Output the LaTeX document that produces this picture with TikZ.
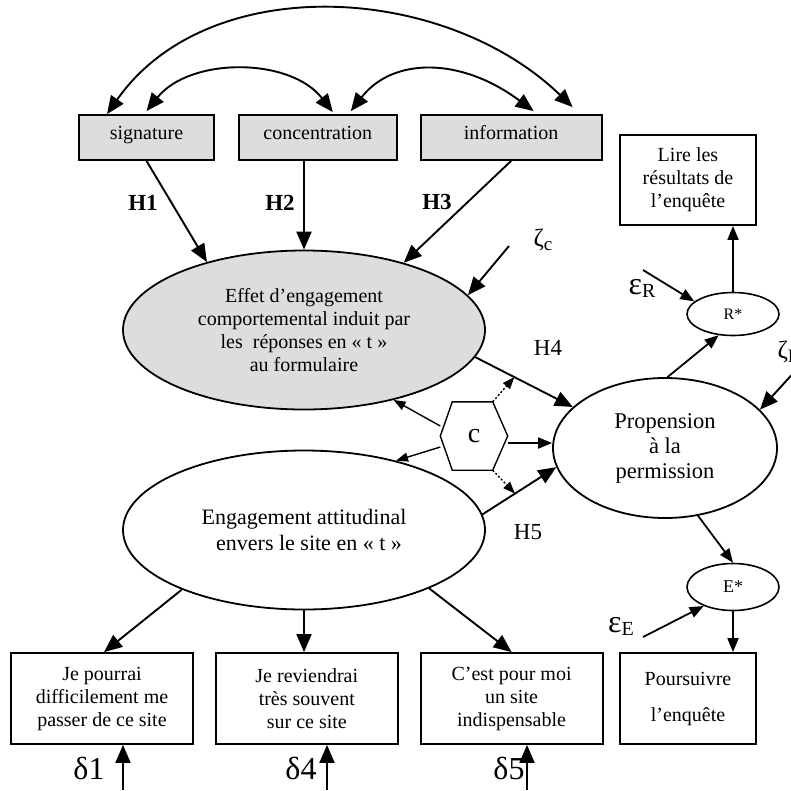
\documentclass[tikz,border=0pt]{standalone}
\usepackage{fontspec}
\setmainfont{Liberation Serif}
\usetikzlibrary{arrows.meta,positioning,shapes.geometric}
\definecolor{boxgray}{RGB}{221,221,221}

\begin{document}
\begin{tikzpicture}[x=1pt,y=-1pt,font=\fontsize{20}{23}\selectfont,
  box/.style={draw, line width=1.8pt, minimum width=182pt, minimum height=91pt, align=center, inner sep=2pt},
  topbox/.style={draw, line width=1.8pt, fill=boxgray, minimum height=45pt, inner sep=2pt, text height=1.25ex, text depth=.25ex},
  latent/.style={draw, ellipse, line width=1.8pt, minimum width=362pt, minimum height=159pt, align=center},
  resid/.style={draw, ellipse, line width=1.6pt, minimum width=92pt, minimum height=43pt, inner sep=0pt},
  arr/.style={line width=1.9pt, -{Triangle[length=18pt,width=15pt]}},
  twoarr/.style={line width=1.9pt, {Triangle[length=18pt,width=15pt]}-{Triangle[length=18pt,width=15pt]}},
  medarr/.style={line width=1.8pt, -{Triangle[length=14pt,width=11pt]}},
  smallarr/.style={line width=1.4pt, -{Triangle[length=12pt,width=9pt]}},
  hbold/.style={font=\bfseries\fontsize{23}{23}\selectfont},
  hlab/.style={font=\fontsize{23}{23}\selectfont},
  greek/.style={font=\fontsize{32}{32}\selectfont, inner sep=0pt},
]
\useasboundingbox (0,0) rectangle (791,790);

% exogenous variables
\node[topbox, minimum width=135pt] (sig) at (146.5,137.5) {signature};
\node[topbox, minimum width=158pt, right=23pt of sig] (conc) {concentration};
\node[topbox, minimum width=181pt, right=22pt of conc] (info) {information};

\draw[twoarr] ([xshift=-39.5pt]sig.north) .. controls (208,-30) and (444,-17) .. ([xshift=61.5pt,yshift=7pt]info.north);
\draw[twoarr] ([yshift=3pt]sig.north) .. controls (190,57) and (290,57) .. ([xshift=15pt,yshift=2pt]conc.north);
\draw[twoarr] ([xshift=33pt,yshift=3pt]conc.north) .. controls (393,57) and (461,57) .. ([xshift=22.5pt,yshift=3pt]info.north);

% latent variables
\node[latent, fill=boxgray] (effet) at (304,330) {Effet d’engagement\\comportemental induit par\\les\ \ réponses en « t »\\au formulaire};
\node[latent, font=\fontsize{22}{26}\selectfont] (eng) at (304,530) {Engagement attitudinal\\\hspace{10pt}envers le site en « t »};
\node[draw, ellipse, line width=1.8pt, minimum width=224pt, minimum height=140pt, align=center,
  font=\fontsize{22.5}{25}\selectfont] (prop) at (665,448) {Propension\\à la\\permission};

\node[minimum width=67pt, minimum height=68pt, inner sep=0pt, font=\fontsize{28}{28}\selectfont] (hex) at (474,436) {c};
\draw[line width=1.4pt] (hex.west) -- ([xshift=12pt]hex.north west) -- ([xshift=-15pt]hex.north east) -- (hex.east)
  -- ([xshift=-15pt]hex.south east) -- ([xshift=12pt]hex.south west) -- cycle;

% outcomes
\node[resid, font=\fontsize{16}{16}\selectfont] (rstar) at (733,314) {R*};
\node[resid, minimum height=47pt, font=\fontsize{18}{18}\selectfont] (estar) at (733,587) {E*};
\node[box, minimum width=136pt, minimum height=90pt] (lire) at (688,180) {Lire les\\résultats de\\l’enquête};
\node[box, minimum width=136pt] (pours) at (688,698.5) {Poursuivre\\[13pt]l’enquête};

% indicators
\node[box] (jp) at (102,698.5) {Je pourrai\\difficilement me\\passer de ce site};
\node[box, right=21pt of jp] (jr) {Je reviendrai\\très souvent\\sur ce site};
\node[box, right=21pt of jr] (cest) {C’est pour moi\\un site\\indispensable};

% labels
\node[hbold] (h1) at (143,203) {H1};
\node[hbold] (h2) at (280,203) {H2};
\node[hbold] (h3) at (437,202) {H3};
\node[hlab] (h4) at (548,348) {H4};
\node[hlab] (h5) at (528,532) {H5};
\node[font=\fontsize{25}{25}\selectfont] (zc) at (543,240) {ζ\raisebox{-4pt}{\fontsize{19}{19}\selectfont c}};
\node[font=\fontsize{25}{25}\selectfont, anchor=west] (zp) at (774,352) {ζ\raisebox{-4pt}{\fontsize{19}{19}\selectfont P}};
\node[greek] (er) at (642,288) {ε\raisebox{-3pt}{\fontsize{20}{20}\selectfont R}};
\node[greek] (ee) at (621,626) {ε\raisebox{-3pt}{\fontsize{20}{20}\selectfont E}};
\node[greek] (d1) at (89,768) {δ1};
\node[greek] (d4) at (301,768) {δ4};
\node[greek] (d5) at (509,768) {δ5};

\coordinate (zcin) at (509,246);
\coordinate (zpin) at (798,368);
\coordinate (erin) at (643,270);
\coordinate (eein) at (643,637);
\coordinate (d1in) at (123,790);
\coordinate (d4in) at (327,790);
\coordinate (d5in) at (527,790);

% paths
\draw[arr] (sig.south) -- (effet.145);
\draw[arr] (effet.90 |- conc.south) -- (effet.90);
\draw[arr] (info.south) -- (effet.34);
\draw[arr] (zcin) -- (effet.12);
\draw[arr] (effet.-9) -- coordinate[pos=0.4] (onh4) (prop.156);
\draw[arr] (eng.5) -- coordinate[pos=0.44] (onh5) (prop.190);
\draw[smallarr] ([yshift=10pt]hex.west) -- (effet.-38);
\draw[smallarr] ([yshift=-11pt]hex.west) -- (eng.37);
\draw[medarr] ([yshift=-7pt]hex.east) -- ([yshift=-7pt]hex.east -| prop.west);
\draw[smallarr, dash pattern=on 2pt off 2pt] ([xshift=-15pt]hex.north east) -- (onh4);
\draw[smallarr, dash pattern=on 2pt off 2pt] ([xshift=-15pt]hex.south east) -- (onh5);

\draw[medarr] (prop.88) -- (rstar.-124);
\draw[medarr] (rstar.north) -- (rstar.north |- lire.south);
\draw[medarr] (erin) -- (rstar.162);
\draw[arr] (zpin) -- (prop.22);
\draw[medarr] (prop.-64) -- (estar.north);
\draw[medarr] (eein) -- (estar.213);
\draw[medarr] (estar.south) -- (estar.south |- pours.north);

\draw[arr] (eng.206) -- ([xshift=2pt]jp.north);
\draw[arr] (eng.south) -- (eng.south |- jr.north);
\draw[arr] (eng.-25) -- (cest.north);
\draw[arr] (d1in) -- (d1in |- jp.south);
\draw[arr] (d4in) -- (d4in |- jr.south);
\draw[arr] (d5in) -- (d5in |- cest.south);

\end{tikzpicture}
\end{document}
